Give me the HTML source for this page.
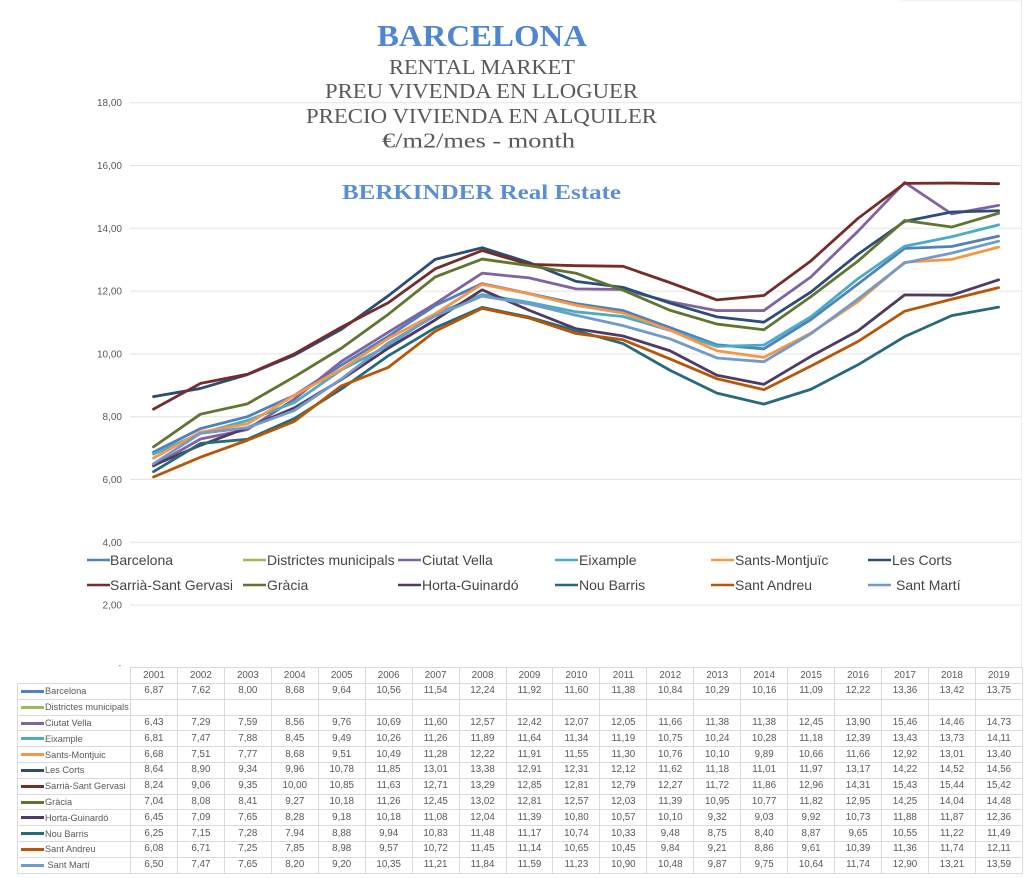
<!DOCTYPE html>
<html><head><meta charset="utf-8">
<style>
html,body{margin:0;padding:0;background:#fff;}
body{width:1024px;height:878px;position:relative;overflow:hidden;}
svg{position:absolute;left:0;top:0;}
table{position:absolute;left:17px;top:667px;border-collapse:collapse;table-layout:fixed;width:1005px;font-family:"Liberation Sans",sans-serif;font-size:9.8px;color:#595959;}
td,th{border:1px solid #dadada;padding:0;text-align:center;font-weight:normal;height:14.8px;line-height:12px;overflow:hidden;white-space:nowrap;}
th{height:15px;}
th.c{border-top:none;border-left:none;}
td.l{text-align:left;padding-left:3px;font-size:9.2px;}
td.l span{display:inline-block;width:23px;height:3px;vertical-align:middle;margin-right:1px;margin-top:-1px;}
</style></head>
<body>
<svg width="1024" height="878" viewBox="0 0 1024 878" xmlns="http://www.w3.org/2000/svg">
<g stroke="#e3e3e3" stroke-width="1">
<line x1="130" y1="102.7" x2="1021" y2="102.7"/>
<line x1="130" y1="165.5" x2="1021" y2="165.5"/>
<line x1="130" y1="228.3" x2="1021" y2="228.3"/>
<line x1="130" y1="291.1" x2="1021" y2="291.1"/>
<line x1="130" y1="353.9" x2="1021" y2="353.9"/>
<line x1="130" y1="416.7" x2="1021" y2="416.7"/>
<line x1="130" y1="479.5" x2="1021" y2="479.5"/>
<line x1="130" y1="542.3" x2="1021" y2="542.3"/>
<line x1="130" y1="605.1" x2="1021" y2="605.1"/>
</g>
<line x1="1021.5" y1="0" x2="1021.5" y2="667" stroke="#ececec" stroke-width="1"/>
<line x1="900" y1="1" x2="1021" y2="1" stroke="#ececec" stroke-width="1"/>
<g font-family="Liberation Sans, sans-serif" font-size="10" fill="#595959" text-anchor="end">
<text x="122" y="106.2">18,00</text>
<text x="122" y="169">16,00</text>
<text x="122" y="231.8">14,00</text>
<text x="122" y="294.6">12,00</text>
<text x="122" y="357.4">10,00</text>
<text x="122" y="420.2">8,00</text>
<text x="122" y="483">6,00</text>
<text x="122" y="545.8">4,00</text>
<text x="122" y="608.6">2,00</text>
<text x="121" y="668" font-size="8">-</text>
</g>
<g font-family="Liberation Serif, serif" text-anchor="middle">
<text x="482" y="46" font-size="31" font-weight="bold" fill="#4f86d2" textLength="210" lengthAdjust="spacingAndGlyphs">BARCELONA</text>
<text x="482" y="74" font-size="21" fill="#595959" textLength="186" lengthAdjust="spacingAndGlyphs">RENTAL MARKET</text>
<text x="481.5" y="98" font-size="21" fill="#595959" textLength="313" lengthAdjust="spacingAndGlyphs">PREU VIVENDA EN LLOGUER</text>
<text x="481.5" y="123" font-size="21" fill="#595959" textLength="351" lengthAdjust="spacingAndGlyphs">PRECIO VIVIENDA EN ALQUILER</text>
<text x="478.5" y="147.5" font-size="21" fill="#595959" textLength="193" lengthAdjust="spacingAndGlyphs">€/m2/mes - month</text>
<text x="481.5" y="199" font-size="21" font-weight="bold" fill="#5b8fd4" textLength="279" lengthAdjust="spacingAndGlyphs">BERKINDER Real Estate</text>
</g>
<g transform="translate(153.5 667.9) scale(46.95 -31.4)" fill="none" stroke-width="2.8" stroke-linejoin="round" stroke-linecap="round">
<polyline vector-effect="non-scaling-stroke" stroke="#4f81bd" points="0,6.87 1,7.62 2,8 3,8.68 4,9.64 5,10.56 6,11.54 7,12.24 8,11.92 9,11.6 10,11.38 11,10.84 12,10.29 13,10.16 14,11.09 15,12.22 16,13.36 17,13.42 18,13.75"/>
<polyline vector-effect="non-scaling-stroke" stroke="#8064a2" points="0,6.43 1,7.29 2,7.59 3,8.56 4,9.76 5,10.69 6,11.6 7,12.57 8,12.42 9,12.07 10,12.05 11,11.66 12,11.38 13,11.38 14,12.45 15,13.9 16,15.46 17,14.46 18,14.73"/>
<polyline vector-effect="non-scaling-stroke" stroke="#4bacc6" points="0,6.81 1,7.47 2,7.88 3,8.45 4,9.49 5,10.26 6,11.26 7,11.89 8,11.64 9,11.34 10,11.19 11,10.75 12,10.24 13,10.28 14,11.18 15,12.39 16,13.43 17,13.73 18,14.11"/>
<polyline vector-effect="non-scaling-stroke" stroke="#f79646" points="0,6.68 1,7.51 2,7.77 3,8.68 4,9.51 5,10.49 6,11.28 7,12.22 8,11.91 9,11.55 10,11.3 11,10.76 12,10.1 13,9.89 14,10.66 15,11.66 16,12.92 17,13.01 18,13.4"/>
<polyline vector-effect="non-scaling-stroke" stroke="#2c4d75" points="0,8.64 1,8.9 2,9.34 3,9.96 4,10.78 5,11.85 6,13.01 7,13.38 8,12.91 9,12.31 10,12.12 11,11.62 12,11.18 13,11.01 14,11.97 15,13.17 16,14.22 17,14.52 18,14.56"/>
<polyline vector-effect="non-scaling-stroke" stroke="#772c2a" points="0,8.24 1,9.06 2,9.35 3,10 4,10.85 5,11.63 6,12.71 7,13.29 8,12.85 9,12.81 10,12.79 11,12.27 12,11.72 13,11.86 14,12.96 15,14.31 16,15.43 17,15.44 18,15.42"/>
<polyline vector-effect="non-scaling-stroke" stroke="#5f7530" points="0,7.04 1,8.08 2,8.41 3,9.27 4,10.18 5,11.26 6,12.45 7,13.02 8,12.81 9,12.57 10,12.03 11,11.39 12,10.95 13,10.77 14,11.82 15,12.95 16,14.25 17,14.04 18,14.48"/>
<polyline vector-effect="non-scaling-stroke" stroke="#4d3b62" points="0,6.45 1,7.09 2,7.65 3,8.28 4,9.18 5,10.18 6,11.08 7,12.04 8,11.39 9,10.8 10,10.57 11,10.1 12,9.32 13,9.03 14,9.92 15,10.73 16,11.88 17,11.87 18,12.36"/>
<polyline vector-effect="non-scaling-stroke" stroke="#276a7c" points="0,6.25 1,7.15 2,7.28 3,7.94 4,8.88 5,9.94 6,10.83 7,11.48 8,11.17 9,10.74 10,10.33 11,9.48 12,8.75 13,8.4 14,8.87 15,9.65 16,10.55 17,11.22 18,11.49"/>
<polyline vector-effect="non-scaling-stroke" stroke="#b65708" points="0,6.08 1,6.71 2,7.25 3,7.85 4,8.98 5,9.57 6,10.72 7,11.45 8,11.14 9,10.65 10,10.45 11,9.84 12,9.21 13,8.86 14,9.61 15,10.39 16,11.36 17,11.74 18,12.11"/>
<polyline vector-effect="non-scaling-stroke" stroke="#729aca" points="0,6.5 1,7.47 2,7.65 3,8.2 4,9.2 5,10.35 6,11.21 7,11.84 8,11.59 9,11.23 10,10.9 11,10.48 12,9.87 13,9.75 14,10.64 15,11.74 16,12.9 17,13.21 18,13.59"/>
</g>
<g stroke-width="2.6">
<line x1="87" y1="560" x2="110" y2="560" stroke="#4f81bd"/>
<line x1="243" y1="560" x2="266" y2="560" stroke="#9bbb59"/>
<line x1="398" y1="560" x2="421" y2="560" stroke="#8064a2"/>
<line x1="555" y1="560" x2="578" y2="560" stroke="#4bacc6"/>
<line x1="711" y1="560" x2="734" y2="560" stroke="#f79646"/>
<line x1="868" y1="560" x2="891" y2="560" stroke="#2c4d75"/>
<line x1="87" y1="585" x2="110" y2="585" stroke="#772c2a"/>
<line x1="243" y1="585" x2="266" y2="585" stroke="#5f7530"/>
<line x1="398" y1="585" x2="421" y2="585" stroke="#4d3b62"/>
<line x1="555" y1="585" x2="578" y2="585" stroke="#276a7c"/>
<line x1="711" y1="585" x2="734" y2="585" stroke="#b65708"/>
<line x1="868" y1="585" x2="891" y2="585" stroke="#729aca"/>
</g>
<g font-family="Liberation Sans, sans-serif" font-size="14" fill="#454545">
<text x="110" y="565">Barcelona</text>
<text x="267" y="565">Districtes municipals</text>
<text x="422" y="565">Ciutat Vella</text>
<text x="579" y="565">Eixample</text>
<text x="735" y="565">Sants-Montjuïc</text>
<text x="892" y="565">Les Corts</text>
<text x="110" y="590">Sarrià-Sant Gervasi</text>
<text x="267" y="590">Gràcia</text>
<text x="422" y="590">Horta-Guinardó</text>
<text x="579" y="590">Nou Barris</text>
<text x="735" y="590">Sant Andreu</text>
<text x="896" y="590">Sant Martí</text>
</g>
</svg>
<table>
<colgroup><col style="width:113px"><col span="19" style="width:46.95px"></colgroup>
<tr><th class="c"></th><th>2001</th><th>2002</th><th>2003</th><th>2004</th><th>2005</th><th>2006</th><th>2007</th><th>2008</th><th>2009</th><th>2010</th><th>2011</th><th>2012</th><th>2013</th><th>2014</th><th>2015</th><th>2016</th><th>2017</th><th>2018</th><th>2019</th></tr>
<tr><td class="l"><span style="background:#4f81bd"></span>Barcelona</td><td>6,87</td><td>7,62</td><td>8,00</td><td>8,68</td><td>9,64</td><td>10,56</td><td>11,54</td><td>12,24</td><td>11,92</td><td>11,60</td><td>11,38</td><td>10,84</td><td>10,29</td><td>10,16</td><td>11,09</td><td>12,22</td><td>13,36</td><td>13,42</td><td>13,75</td></tr>
<tr><td class="l"><span style="background:#9bbb59"></span>Districtes municipals</td><td></td><td></td><td></td><td></td><td></td><td></td><td></td><td></td><td></td><td></td><td></td><td></td><td></td><td></td><td></td><td></td><td></td><td></td><td></td></tr>
<tr><td class="l"><span style="background:#8064a2"></span>Ciutat Vella</td><td>6,43</td><td>7,29</td><td>7,59</td><td>8,56</td><td>9,76</td><td>10,69</td><td>11,60</td><td>12,57</td><td>12,42</td><td>12,07</td><td>12,05</td><td>11,66</td><td>11,38</td><td>11,38</td><td>12,45</td><td>13,90</td><td>15,46</td><td>14,46</td><td>14,73</td></tr>
<tr><td class="l"><span style="background:#4bacc6"></span>Eixample</td><td>6,81</td><td>7,47</td><td>7,88</td><td>8,45</td><td>9,49</td><td>10,26</td><td>11,26</td><td>11,89</td><td>11,64</td><td>11,34</td><td>11,19</td><td>10,75</td><td>10,24</td><td>10,28</td><td>11,18</td><td>12,39</td><td>13,43</td><td>13,73</td><td>14,11</td></tr>
<tr><td class="l"><span style="background:#f79646"></span>Sants-Montjuic</td><td>6,68</td><td>7,51</td><td>7,77</td><td>8,68</td><td>9,51</td><td>10,49</td><td>11,28</td><td>12,22</td><td>11,91</td><td>11,55</td><td>11,30</td><td>10,76</td><td>10,10</td><td>9,89</td><td>10,66</td><td>11,66</td><td>12,92</td><td>13,01</td><td>13,40</td></tr>
<tr><td class="l"><span style="background:#2c4d75"></span>Les Corts</td><td>8,64</td><td>8,90</td><td>9,34</td><td>9,96</td><td>10,78</td><td>11,85</td><td>13,01</td><td>13,38</td><td>12,91</td><td>12,31</td><td>12,12</td><td>11,62</td><td>11,18</td><td>11,01</td><td>11,97</td><td>13,17</td><td>14,22</td><td>14,52</td><td>14,56</td></tr>
<tr><td class="l"><span style="background:#772c2a"></span>Sarrià-Sant Gervasi</td><td>8,24</td><td>9,06</td><td>9,35</td><td>10,00</td><td>10,85</td><td>11,63</td><td>12,71</td><td>13,29</td><td>12,85</td><td>12,81</td><td>12,79</td><td>12,27</td><td>11,72</td><td>11,86</td><td>12,96</td><td>14,31</td><td>15,43</td><td>15,44</td><td>15,42</td></tr>
<tr><td class="l"><span style="background:#5f7530"></span>Gràcia</td><td>7,04</td><td>8,08</td><td>8,41</td><td>9,27</td><td>10,18</td><td>11,26</td><td>12,45</td><td>13,02</td><td>12,81</td><td>12,57</td><td>12,03</td><td>11,39</td><td>10,95</td><td>10,77</td><td>11,82</td><td>12,95</td><td>14,25</td><td>14,04</td><td>14,48</td></tr>
<tr><td class="l"><span style="background:#4d3b62"></span>Horta-Guinardó</td><td>6,45</td><td>7,09</td><td>7,65</td><td>8,28</td><td>9,18</td><td>10,18</td><td>11,08</td><td>12,04</td><td>11,39</td><td>10,80</td><td>10,57</td><td>10,10</td><td>9,32</td><td>9,03</td><td>9,92</td><td>10,73</td><td>11,88</td><td>11,87</td><td>12,36</td></tr>
<tr><td class="l"><span style="background:#276a7c"></span>Nou Barris</td><td>6,25</td><td>7,15</td><td>7,28</td><td>7,94</td><td>8,88</td><td>9,94</td><td>10,83</td><td>11,48</td><td>11,17</td><td>10,74</td><td>10,33</td><td>9,48</td><td>8,75</td><td>8,40</td><td>8,87</td><td>9,65</td><td>10,55</td><td>11,22</td><td>11,49</td></tr>
<tr><td class="l"><span style="background:#b65708"></span>Sant Andreu</td><td>6,08</td><td>6,71</td><td>7,25</td><td>7,85</td><td>8,98</td><td>9,57</td><td>10,72</td><td>11,45</td><td>11,14</td><td>10,65</td><td>10,45</td><td>9,84</td><td>9,21</td><td>8,86</td><td>9,61</td><td>10,39</td><td>11,36</td><td>11,74</td><td>12,11</td></tr>
<tr><td class="l"><span style="background:#729aca"></span> Sant Martí</td><td>6,50</td><td>7,47</td><td>7,65</td><td>8,20</td><td>9,20</td><td>10,35</td><td>11,21</td><td>11,84</td><td>11,59</td><td>11,23</td><td>10,90</td><td>10,48</td><td>9,87</td><td>9,75</td><td>10,64</td><td>11,74</td><td>12,90</td><td>13,21</td><td>13,59</td></tr>
</table>
</body></html>
